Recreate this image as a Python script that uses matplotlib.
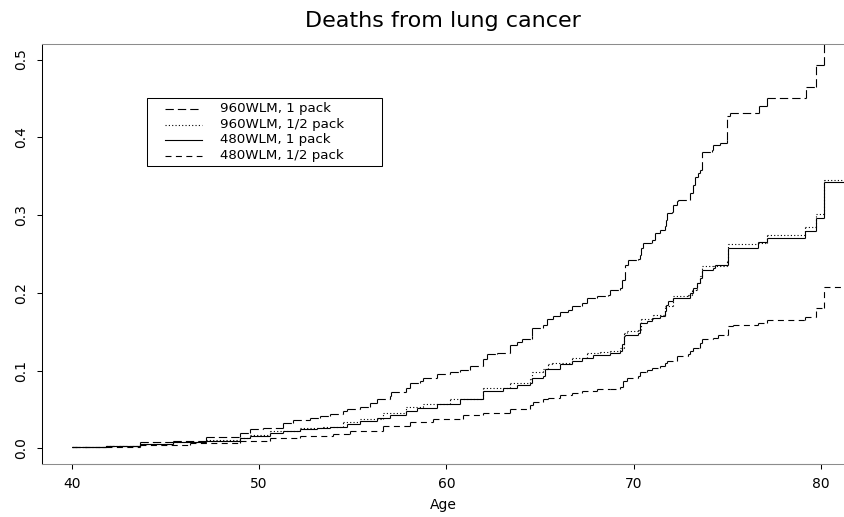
import numpy as np
import matplotlib
import matplotlib.pyplot as plt
from matplotlib.collections import LineCollection
from matplotlib.lines import Line2D
from matplotlib.patches import Rectangle

matplotlib.use("Agg")

# cumulative probability of death from lung cancer
age_960_1 = [40.0, 41.85, 43.63, 45.41, 47.19, 48.97, 49.51, 50.22, 51.28, 51.82,
             52.71, 53.24, 53.78, 54.49, 54.67, 55.38, 55.91, 56.27, 56.98, 57.07,
             57.87, 58.05, 58.58, 58.76, 59.48, 60.19, 60.72, 61.26, 61.97, 62.15,
             62.68, 63.39, 63.75, 64.02, 64.55, 64.58, 65.17, 65.35, 65.70, 66.06,
             66.51, 66.69, 67.22, 67.49, 68.02, 68.64, 68.73, 69.27, 69.36, 69.53,
             69.71, 70.24, 70.33, 70.37, 70.51, 70.96, 71.13, 71.40, 71.67, 71.70,
             71.76, 72.03, 72.11, 72.29, 72.38, 73.00, 73.18, 73.27, 73.45, 73.54,
             73.63, 74.16, 74.25, 74.61, 74.96, 75.00, 75.14, 76.69, 77.13, 79.18,
             79.73, 80.16]
cum_960_1 = [0.0015, 0.0033, 0.0077, 0.0097, 0.0141, 0.0205, 0.0247, 0.0269, 0.0324, 0.0367,
             0.0397, 0.0418, 0.0440, 0.0482, 0.0504, 0.0538, 0.0581, 0.0632, 0.0674, 0.0726,
             0.0782, 0.0846, 0.0867, 0.0910, 0.0953, 0.0982, 0.1008, 0.1059, 0.1145, 0.1209,
             0.1231, 0.1328, 0.1372, 0.1410, 0.1444, 0.1551, 0.1581, 0.1658, 0.1700, 0.1751,
             0.1786, 0.1837, 0.1872, 0.1936, 0.1965, 0.1978, 0.2042, 0.2064, 0.2171, 0.2363,
             0.2427, 0.2436, 0.2491, 0.2577, 0.2641, 0.2683, 0.2769, 0.2803, 0.2854, 0.2940,
             0.3026, 0.3046, 0.3132, 0.3187, 0.3196, 0.3282, 0.3388, 0.3495, 0.3538, 0.3581,
             0.3815, 0.3837, 0.3901, 0.3923, 0.3965, 0.4273, 0.4308, 0.4401, 0.4500, 0.4649,
             0.4927, 0.5400]

age_960_half = [40.0, 41.85, 43.63, 45.41, 47.19, 48.97, 49.51, 50.57, 52.18, 53.42,
                54.49, 55.38, 56.63, 57.87, 58.76, 60.19, 61.97, 63.39, 64.46, 64.55,
                65.17, 65.44, 65.62, 66.69, 67.49, 68.20, 68.73, 69.27, 69.48, 69.62,
                70.24, 70.37, 71.04, 71.67, 72.11, 72.91, 73.09, 73.36, 73.54, 73.63,
                74.25, 74.96, 75.05, 76.65, 77.10, 79.15, 79.73, 80.16]
cum_960_half = [0.0015, 0.0030, 0.0060, 0.0080, 0.0105, 0.0135, 0.0171, 0.0226, 0.0265, 0.0277,
                0.0341, 0.0385, 0.0462, 0.0538, 0.0568, 0.0632, 0.0782, 0.0837, 0.0888, 0.0982,
                0.1017, 0.1081, 0.1103, 0.1167, 0.1222, 0.1238, 0.1251, 0.1295, 0.1487, 0.1508,
                0.1529, 0.1658, 0.1722, 0.1828, 0.1956, 0.1978, 0.2042, 0.2128, 0.2213, 0.2341,
                0.2350, 0.2405, 0.2632, 0.2641, 0.2747, 0.2841, 0.3013, 0.3453]

age_480_1 = [40.0, 41.85, 43.63, 45.41, 47.19, 48.97, 49.51, 50.57, 51.28, 52.18,
             53.07, 53.78, 54.67, 55.38, 56.27, 56.98, 57.87, 58.41, 59.48, 60.72,
             61.97, 63.03, 63.75, 64.46, 64.55, 65.17, 65.26, 66.06, 66.69, 67.22,
             67.84, 68.73, 69.27, 69.36, 69.48, 69.53, 70.24, 70.33, 70.69, 70.96,
             71.40, 71.67, 71.70, 71.85, 72.11, 73.00, 73.18, 73.36, 73.54, 73.63,
             74.25, 74.34, 75.05, 76.65, 77.10, 79.15, 79.73, 80.16]
cum_480_1 = [0.0015, 0.0028, 0.0055, 0.0077, 0.0097, 0.0128, 0.0154, 0.0196, 0.0226, 0.0256,
             0.0269, 0.0282, 0.0312, 0.0354, 0.0397, 0.0427, 0.0482, 0.0526, 0.0568, 0.0632,
             0.0738, 0.0782, 0.0812, 0.0837, 0.0910, 0.0931, 0.1017, 0.1081, 0.1123, 0.1167,
             0.1196, 0.1222, 0.1251, 0.1337, 0.1444, 0.1465, 0.1487, 0.1615, 0.1636, 0.1679,
             0.1700, 0.1764, 0.1850, 0.1892, 0.1936, 0.2000, 0.2064, 0.2128, 0.2192, 0.2299,
             0.2321, 0.2363, 0.2577, 0.2649, 0.2705, 0.2790, 0.2962, 0.3431]

age_480_half = [40.0, 41.85, 43.63, 46.30, 48.97, 50.57, 52.18, 53.96, 54.85, 56.63,
                58.05, 59.30, 60.90, 61.97, 63.39, 64.46, 64.64, 65.17, 65.44, 66.06,
                66.69, 67.22, 68.02, 68.73, 69.27, 69.44, 69.62, 70.24, 70.33, 70.69,
                70.96, 71.40, 71.67, 71.76, 72.29, 72.91, 73.00, 73.18, 73.54, 73.63,
                74.25, 74.52, 74.96, 75.05, 75.32, 76.65, 77.10, 79.15, 79.73, 80.16]
cum_480_half = [0.0015, 0.0025, 0.0042, 0.0068, 0.0097, 0.0128, 0.0162, 0.0183, 0.0226, 0.0290,
                0.0341, 0.0376, 0.0427, 0.0462, 0.0504, 0.0555, 0.0597, 0.0632, 0.0654, 0.0683,
                0.0718, 0.0738, 0.0760, 0.0769, 0.0795, 0.0867, 0.0910, 0.0931, 0.0982, 0.1008,
                0.1038, 0.1059, 0.1103, 0.1123, 0.1187, 0.1209, 0.1251, 0.1295, 0.1359, 0.1410,
                0.1423, 0.1453, 0.1465, 0.1572, 0.1590, 0.1615, 0.1650, 0.1690, 0.1810, 0.2070]

labels = ["960WLM, 1 pack", "960WLM, 1/2 pack", "480WLM, 1 pack", "480WLM, 1/2 pack"]

plt.rcParams["font.family"] = "DejaVu Sans"
plt.rcParams["lines.scale_dashes"] = False

# R style line types (dash lengths in points)
longdash = (0, (6.0, 2.9))
dotted = (0, (0.8, 1.6))
solid = "solid"
dashed = (0, (4.3, 3.2))


def step_segments(t, y, t_end=81.6):
    # one segment per tread and riser so the dash pattern restarts, as in R
    t = list(t) + [t_end]
    segs = []
    for i in range(len(y)):
        segs.append([(t[i], y[i]), (t[i + 1], y[i])])
        if i + 1 < len(y):
            segs.append([(t[i + 1], y[i]), (t[i + 1], y[i + 1])])
    return segs


W, H = 844, 517


def fpos(x, y):
    # pixel position (from top left) -> figure fraction
    return x / W, 1 - y / H


fig = plt.figure(figsize=(W / 100, H / 100), dpi=100)
ax = fig.add_axes([42 / W, 1 - 464 / H, (844 - 42) / W, (464 - 44) / H])

series = [
    (age_960_1, cum_960_1, longdash),
    (age_960_half, cum_960_half, dotted),
    (age_480_1, cum_480_1, solid),
    (age_480_half, cum_480_half, dashed),
]
for t, y, ls in series:
    lc = LineCollection(step_segments(t, y), colors="black", linewidths=0.8,
                        linestyles=ls, capstyle="butt")
    ax.add_collection(lc)

ax.set_xlim(38.41, 81.23)
ax.set_ylim(-0.02, 0.52)
ax.set_xticks([40, 50, 60, 70, 80])
ax.set_yticks([0.0, 0.1, 0.2, 0.3, 0.4, 0.5])
ax.set_yticklabels(["0.0", "0.1", "0.2", "0.3", "0.4", "0.5"], rotation=90, va="center")
ax.tick_params(direction="out", length=3.6, width=0.75, labelsize=10, color="black")
ax.tick_params(axis="x", pad=5.5)
ax.tick_params(axis="y", pad=6.5)

ax.spines["right"].set_visible(False)
ax.spines["left"].set_color("black")
ax.spines["left"].set_linewidth(0.75)
for s in ("top", "bottom"):
    ax.spines[s].set_color("#8c8c8c")
    ax.spines[s].set_linewidth(0.75)
# axis line between first and last tick
ax.plot([40, 80], [0, 0], color="black", lw=0.75, transform=ax.get_xaxis_transform(),
        clip_on=False)

ax.set_xlabel("Age", fontsize=10, labelpad=5)
fig.text(*fpos(443, 27), "Deaths from lung cancer", fontsize=16, ha="center",
         va="baseline")

# legend box drawn the R way: frame, short line samples, labels
fig.add_artist(Rectangle(fpos(147, 166), 235 / W, 68 / H, fill=False, ec="black",
                         lw=0.75, transform=fig.transFigure))
for i, ((_, _, ls), lab) in enumerate(zip(series, labels)):
    row_y = 109 + i * 15.5
    x0, y0 = fpos(165, row_y)
    x1, _ = fpos(202, row_y)
    fig.add_artist(Line2D([x0, x1], [y0, y0], color="black", lw=0.8, linestyle=ls,
                          transform=fig.transFigure))
    fig.text(*fpos(220, row_y), lab, fontsize=9.6, ha="left", va="center")

fig.savefig("out.png", dpi=100)
